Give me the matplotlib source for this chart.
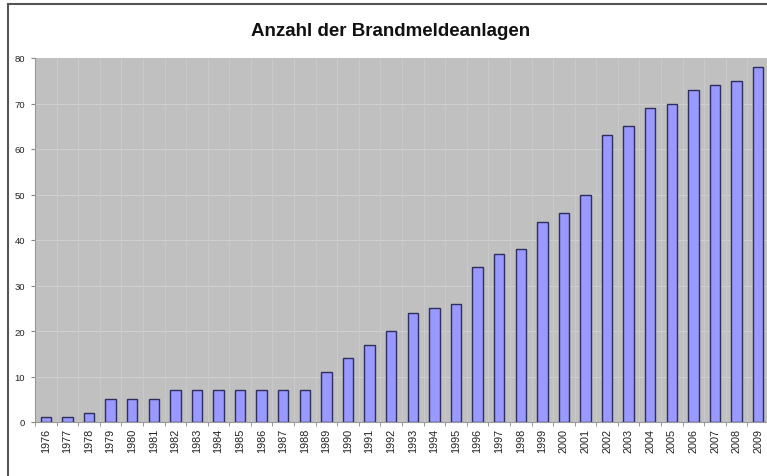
import matplotlib
matplotlib.use("Agg")
import matplotlib.pyplot as plt
import numpy as np
from matplotlib.patches import Rectangle

years = [str(y) for y in range(1976, 2010)]
values = [1, 1, 2, 5, 5, 5, 7, 7, 7, 7, 7, 7, 7, 11, 14, 17, 20, 24, 25, 26,
          34, 37, 38, 44, 46, 50, 63, 65, 69, 70, 73, 74, 75, 78]
yticks = [0, 10, 20, 30, 40, 50, 60, 70, 80]
title = "Anzahl der Brandmeldeanlagen"

plt.rcParams['font.family'] = ['Liberation Sans', 'DejaVu Sans']

W, H = 767, 477
fig = plt.figure(figsize=(W / 100, H / 100), dpi=100)
fig.patch.set_facecolor('white')

# outer frame (left and top visible)
fig.patches.append(Rectangle((8 / W, -0.05), 1.2, 1 - 5 / H + 0.05, transform=fig.transFigure,
                             fill=False, edgecolor='#555555', linewidth=1.5, zorder=0))

left, right = 35 / W, 769 / W
bottom, top = 1 - 423 / H, 1 - 59 / H
ax = fig.add_axes([left, bottom, right - left, top - bottom])
ax.set_facecolor('#c0c0c0')

x = np.arange(len(years))
ax.bar(x, values, width=0.48, color='#9999ff', edgecolor='#2e2e5e', linewidth=1.0, zorder=3)

ax.set_xlim(-0.5, len(years) - 0.5)
ax.set_ylim(0, 80)
ax.set_yticks(yticks)
ax.set_yticklabels([str(v) for v in yticks], fontsize=6.8, color='#222222')
ax.set_xticks(x)
ax.set_xticklabels(years, rotation=90, fontsize=7.8, color='#222222')
ax.tick_params(axis='x', length=0, pad=4)
ax.set_xticks(np.arange(-0.5, len(years)), minor=True)
ax.tick_params(axis='x', which='minor', length=3, color='#888888')
ax.tick_params(axis='y', length=3, color='#888888', pad=4)

for yv in yticks[1:-1]:
    ax.axhline(yv, color='#cfcfcf', linewidth=0.8, zorder=1)
for xv in np.arange(0.5, len(years) - 0.5):
    ax.axvline(xv, color='#c9c9c9', linewidth=0.8, zorder=1)

for s in ['top', 'right']:
    ax.spines[s].set_visible(False)
ax.spines['left'].set_color('#999999')
ax.spines['bottom'].set_color('#999999')

fig.text(391 / W, 1 - 32 / H, title, ha='center', va='center',
         fontsize=13.5, fontweight='bold', color='#111111')

fig.savefig('out.png', dpi=100)
